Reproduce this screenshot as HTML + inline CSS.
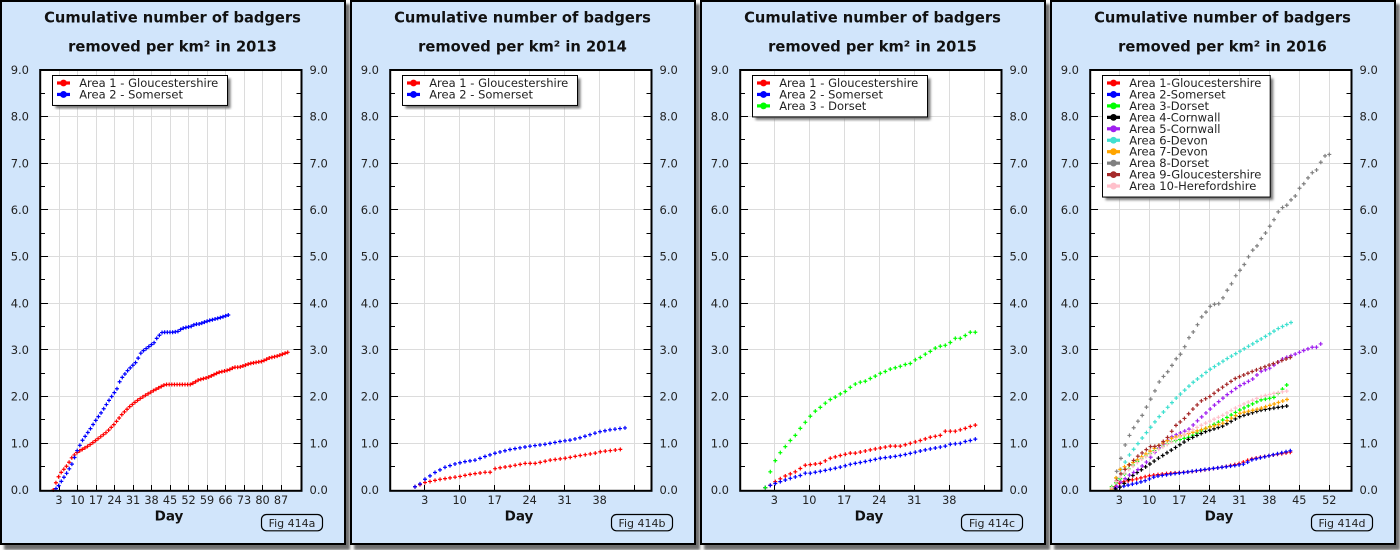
<!DOCTYPE html>
<html><head><meta charset="utf-8">
<style>
html,body{margin:0;padding:0;background:#fff;}
svg{display:block;}
text{font-family:"DejaVu Sans","Liberation Sans",sans-serif;}
</style></head>
<body>
<svg id="s" width="1400" height="550" xmlns="http://www.w3.org/2000/svg"></svg>
<script>
const Y=v=>490-v*46.667;
function interp(k,x){
  if(x<=k[0][0])return k[0][1];
  for(let i=1;i<k.length;i++){
    if(x<=k[i][0]+1e-9){const a=k[i-1],b=k[i];const t=(x-a[0])/((b[0]-a[0])||1);return a[1]+(b[1]-a[1])*t;}
  }
  return k[k.length-1][1];
}
function sample(k,step){
  const x0=k[0][0],x1=k[k.length-1][0];
  const n=Math.max(1,Math.round((x1-x0)/step));
  const p=[];
  for(let i=0;i<=n;i++){const x=x0+(x1-x0)*i/n;p.push([x,interp(k,x)]);}
  return p;
}
const L3=[3,10,17,24,31,38,''];
const panels=[
 {year:2013,fig:'414a',gx:59,gdx:18.5,labels:[3,10,17,24,31,38,45,52,59,66,73,80,87],step:2.643,lw:175,
  legend:['Area 1 - Gloucestershire','Area 2 - Somerset'],
  series:[
   ['#ff0000',[[53.3,0],[56,0.16],[59.3,0.32],[61.3,0.38],[67.3,0.53],[72.3,0.71],[77.3,0.81],[88.7,0.95],[98.7,1.11],[106.7,1.24],[114.3,1.41],[122.3,1.63],[130.3,1.80],[138.7,1.94],[146.3,2.04],[154.3,2.14],[165,2.26],[190.7,2.26],[198.7,2.36],[207.7,2.41],[218.7,2.52],[228.7,2.57],[234,2.63],[239.3,2.63],[250,2.71],[262.7,2.76],[269.3,2.83],[277.3,2.87],[287.7,2.95]]],
   ['#0000ff',[[56,0.03],[59.3,0.11],[62,0.21],[67.3,0.38],[72.3,0.57],[77.3,0.85],[82.3,1.06],[90.3,1.31],[96,1.5],[101.3,1.66],[109.3,1.93],[117.3,2.18],[120.3,2.36],[128,2.57],[136,2.74],[141.3,2.95],[146.7,3.04],[154.3,3.16],[157.3,3.27],[162.3,3.38],[172.7,3.38],[178.3,3.40],[181.7,3.46],[191.7,3.51],[194.7,3.55],[200,3.56],[203.3,3.59],[210.7,3.64],[218.3,3.68],[228.3,3.75]]]
  ]},
 {year:2014,fig:'414b',gx:424.7,gdx:35,labels:L3,step:5,lw:175,
  legend:['Area 1 - Gloucestershire','Area 2 - Somerset'],
  series:[
   ['#ff0000',[[415,0.07],[425,0.16],[440.3,0.23],[460,0.29],[470.3,0.336],[485.3,0.38],[490.3,0.38],[495.3,0.46],[510.3,0.51],[525.3,0.57],[535.3,0.57],[550.3,0.64],[565.3,0.68],[580.3,0.74],[595.3,0.79],[600.3,0.82],[620.3,0.87]]],
   ['#0000ff',[[415,0.07],[420,0.13],[425,0.23],[435.3,0.38],[445.3,0.49],[455.3,0.56],[465.3,0.61],[475.3,0.64],[485.3,0.72],[495.3,0.79],[510.3,0.87],[530.3,0.94],[545.3,0.98],[560.3,1.04],[570.3,1.07],[580,1.12],[600,1.25],[610,1.29],[625,1.33]]]
  ]},
 {year:2015,fig:'414c',gx:774.3,gdx:35,labels:L3,step:5,lw:175,
  legend:['Area 1 - Gloucestershire','Area 2 - Somerset','Area 3 - Dorset'],
  series:[
   ['#ff0000',[[765.3,0.05],[770.3,0.1],[775.3,0.18],[785.3,0.30],[795.3,0.39],[805.3,0.53],[820.3,0.57],[830.3,0.68],[840.3,0.74],[850.3,0.79],[855.3,0.79],[870.3,0.86],[890.3,0.94],[900.3,0.94],[905.3,0.97],[910.3,1.0],[920.3,1.06],[930.3,1.13],[940.3,1.17],[945.3,1.26],[955.3,1.26],[960.3,1.29],[965.3,1.32],[970.3,1.36],[975.3,1.39]]],
   ['#0000ff',[[765.3,0.05],[770.3,0.10],[780.3,0.18],[790.3,0.25],[800.3,0.31],[805.3,0.36],[810.3,0.36],[825.3,0.42],[840.3,0.49],[850.3,0.55],[865.3,0.61],[880.3,0.68],[895.3,0.72],[905.3,0.76],[915.3,0.81],[925.3,0.86],[935.3,0.90],[945.3,0.94],[950.3,0.98],[960.3,1.0],[965.3,1.04],[970.3,1.06],[975.3,1.09]]],
   ['#00ff00',[[765.3,0.05],[770.3,0.39],[775.3,0.63],[780.3,0.80],[785.3,0.93],[790.3,1.06],[795.3,1.17],[800.3,1.32],[805.3,1.45],[810.3,1.58],[815.3,1.69],[820.3,1.77],[825.3,1.86],[830.3,1.94],[835.3,1.99],[840.3,2.06],[845.3,2.11],[850.3,2.2],[855.3,2.27],[860.3,2.31],[865.3,2.33],[870.3,2.39],[875.3,2.44],[880.3,2.50],[885.3,2.54],[890.3,2.59],[895.3,2.62],[900.3,2.65],[905.3,2.69],[910.3,2.71],[915.3,2.79],[920.3,2.84],[925.3,2.91],[930.3,2.97],[935.3,3.04],[940.3,3.08],[945.3,3.10],[950.3,3.16],[955.3,3.25],[960.3,3.25],[965.3,3.31],[970.3,3.38],[975.3,3.38]]]
  ]},
 {year:2016,fig:'414d',gx:1119.3,gdx:30,labels:[3,10,17,24,31,38,45,52],step:4.286,lw:167.7,
  legend:['Area 1-Gloucestershire','Area 2-Somerset','Area 3-Dorset','Area 4-Cornwall','Area 5-Cornwall','Area 6-Devon','Area 7-Devon','Area 8-Dorset','Area 9-Gloucestershire','Area 10-Herefordshire'],
  series:[
   ['#ff0000',[[1115.3,0.07],[1120.3,0.16],[1135.3,0.23],[1150.3,0.31],[1170.3,0.36],[1190.3,0.39],[1210.3,0.45],[1225.3,0.5],[1240.3,0.57],[1250.3,0.66],[1270.3,0.74],[1290.3,0.81]]],
   ['#0000ff',[[1115.3,0.04],[1125.3,0.09],[1135.3,0.14],[1145.3,0.2],[1155.3,0.29],[1170.3,0.34],[1185.3,0.38],[1205.3,0.44],[1230.3,0.51],[1245.3,0.56],[1250.3,0.64],[1270.3,0.74],[1290.3,0.84]]],
   ['#00ff00',[[1111.7,0.07],[1120.7,0.25],[1128.7,0.45],[1137,0.61],[1154.3,0.84],[1171.7,1.04],[1188.7,1.13],[1205.3,1.31],[1222.7,1.5],[1239.3,1.71],[1260.7,1.93],[1273.7,1.98],[1286.7,2.25]]],
   ['#000000',[[1115.7,0.02],[1120.7,0.07],[1133.3,0.32],[1145.3,0.49],[1158.3,0.68],[1171.7,0.86],[1188.7,1.09],[1205.3,1.25],[1222.7,1.37],[1239.3,1.57],[1260.7,1.71],[1286.7,1.80]]],
   ['#a020f0',[[1116.7,0.08],[1120.7,0.16],[1128.7,0.31],[1137,0.42],[1145.3,0.57],[1158.3,0.89],[1171.7,1.14],[1188.7,1.30],[1197.3,1.48],[1214,1.81],[1227,2.04],[1239.3,2.23],[1252.3,2.37],[1260.7,2.54],[1269.7,2.61],[1282.7,2.81],[1295,2.91],[1303.7,2.99],[1312.3,3.06],[1316.7,3.06],[1320.7,3.13]]],
   ['#40e0d0',[[1116.7,0.25],[1120.7,0.43],[1128.7,0.73],[1141.3,1.09],[1158.3,1.55],[1175.7,1.96],[1192.7,2.30],[1209.7,2.58],[1226.7,2.81],[1243.7,3.02],[1260.7,3.23],[1278.3,3.46],[1291,3.59]]],
   ['#ffa500',[[1111.7,0.02],[1116.7,0.3],[1120.7,0.46],[1133.3,0.59],[1158.3,0.95],[1171.7,1.11],[1188.7,1.21],[1205.3,1.32],[1222.7,1.43],[1239.3,1.64],[1260.7,1.75],[1273.7,1.84],[1287,1.94]]],
   ['#808080',[[1116.7,0.40],[1120.7,0.66],[1124.3,0.92],[1128.7,1.14],[1133.3,1.32],[1137,1.45],[1141.3,1.56],[1145.3,1.73],[1150.3,1.93],[1154.3,2.09],[1158.3,2.29],[1163.3,2.43],[1167.3,2.52],[1171.7,2.66],[1175.7,2.80],[1180.5,2.91],[1184.3,3.05],[1188.5,3.25],[1192.5,3.36],[1197.2,3.53],[1201.3,3.70],[1205.3,3.79],[1209.7,3.93],[1214,3.98],[1218.3,3.98],[1222.3,4.09],[1226.3,4.25],[1231.3,4.41],[1235.3,4.58],[1239.3,4.69],[1243.7,4.81],[1248.3,4.99],[1252.3,5.13],[1256.7,5.22],[1260.7,5.37],[1265.3,5.50],[1269.7,5.65],[1273.7,5.78],[1278.3,5.96],[1282.3,6.05],[1286.7,6.10],[1290.7,6.21],[1295.3,6.30],[1299.3,6.46],[1303.7,6.56],[1307.7,6.68],[1312.3,6.80],[1316.7,6.86],[1320.7,7.02],[1325,7.16],[1329.3,7.19]]],
   ['#a52a2a',[[1116.7,0.2],[1120.7,0.34],[1137,0.71],[1150.3,0.93],[1158.3,0.94],[1167.3,1.12],[1175.7,1.38],[1184.3,1.53],[1192.7,1.73],[1201.3,1.91],[1209.7,2.0],[1218.3,2.14],[1235.3,2.39],[1252.3,2.54],[1269.7,2.68],[1290.3,2.84]]],
   ['#ffc0cb',[[1111.7,0.05],[1116.7,0.2],[1124.3,0.36],[1141.3,0.66],[1158.3,0.87],[1171.7,1.03],[1188.7,1.25],[1205.3,1.43],[1222.7,1.6],[1239.3,1.80],[1260.7,2.0],[1273.7,2.07],[1286.7,2.12]]]
  ]}
];
const cols4=['#ff0000','#0000ff','#00ff00','#000000','#a020f0','#40e0d0','#ffa500','#808080','#a52a2a','#ffc0cb'];
let h='<defs><filter id="bl" x="-5%" y="-5%" width="110%" height="110%"><feGaussianBlur stdDeviation="1.2"/></filter></defs>';
panels.forEach((P,pi)=>{
  const ox=350*pi;
  // shadow + panel
  h+=`<rect x="${ox+4}" y="4" width="346" height="546" fill="#6e6e6e" filter="url(#bl)"/>`;
  h+=`<rect x="${ox+1}" y="1" width="344" height="543" fill="#d1e5fb" stroke="#000" stroke-width="2"/>`;
  // title
  h+=`<text x="${ox+172.5}" y="22.7" text-anchor="middle" font-weight="bold" font-size="14.7" fill="#111">Cumulative number of badgers</text>`;
  h+=`<text x="${ox+172.5}" y="51.7" text-anchor="middle" font-weight="bold" font-size="14.7" fill="#111">removed per km² in ${P.year}</text>`;
  // plot bg
  h+=`<rect x="${ox+40}" y="70" width="262" height="421" fill="#fff"/>`;
  // grid horizontal
  for(let k=1;k<=8;k++){const y=Math.round(Y(k)-0.5)+0.5;h+=`<line x1="${ox+41}" x2="${ox+301}" y1="${y}" y2="${y}" stroke="#dcdcdc" stroke-width="1"/>`;}
  // grid vertical + labels
  P.labels.forEach((lb,i)=>{
    const x=P.gx+P.gdx*i;const xr=Math.round(x-0.5)+0.5;
    h+=`<line x1="${xr}" x2="${xr}" y1="71" y2="490" stroke="#dcdcdc" stroke-width="1"/>`;
    h+=`<line x1="${xr}" x2="${xr}" y1="485" y2="490" stroke="#000" stroke-width="1"/>`;
    if(lb!=='')h+=`<text x="${x}" y="504" text-anchor="middle" font-size="11.3" fill="#222">${lb}</text>`;
  });
  // y ticks and labels
  for(let k=0;k<=18;k++){
    const v=k/2;const y=Math.round(Y(v)-0.5)+0.5;const len=(k%2===0)?7:4;
    if(k>0&&k<18){
      h+=`<line x1="${ox+41}" x2="${ox+41+len}" y1="${y}" y2="${y}" stroke="#000" stroke-width="1"/>`;
      h+=`<line x1="${ox+300.5}" x2="${ox+300.5-len}" y1="${y}" y2="${y}" stroke="#000" stroke-width="1"/>`;
    }
    if(k%2===0){
      h+=`<text x="${ox+29}" y="${Y(v)+4}" text-anchor="end" font-size="11.5" fill="#222">${v.toFixed(1)}</text>`;
      h+=`<text x="${ox+309.5}" y="${Y(v)+4}" text-anchor="start" font-size="11.5" fill="#222">${v.toFixed(1)}</text>`;
    }
  }
  // series
  P.series.forEach(s=>{
    const pts=sample(s[1],P.step);
    let d='';
    pts.forEach(p=>{const x=p[0],y=Y(p[1]);d+=`M${(x-2).toFixed(2)},${y.toFixed(2)}h4M${x.toFixed(2)},${(y-2).toFixed(2)}v4`;});
    h+=`<path d="${d}" stroke="${s[0]}" stroke-width="1.2" fill="none"/>`;
  });
  // frame
  h+=`<rect x="${ox+40.2}" y="70" width="261.3" height="420.8" fill="none" stroke="#000" stroke-width="2"/>`;
  // legend
  const n=P.legend.length;const bx=ox+52.5,by=75.5,bh=8+11.45*(n-1)+10.5,bw=P.lw;
  h+=`<rect x="${bx+3}" y="${by+3}" width="${bw}" height="${bh}" fill="#777" filter="url(#bl)"/>`;
  h+=`<rect x="${bx}" y="${by}" width="${bw}" height="${bh}" fill="#fff" stroke="#000" stroke-width="1"/>`;
  P.legend.forEach((t,i)=>{
    const cy=by+7.5+11.45*i;const c=P.series[i]?P.series[i][0]:cols4[i];
    h+=`<line x1="${bx+4.5}" x2="${bx+17.5}" y1="${cy}" y2="${cy}" stroke="${c}" stroke-width="3.2"/>`;
    h+=`<circle cx="${bx+11}" cy="${cy}" r="3.4" fill="${c}"/>`;
    h+=`<text x="${bx+26.7}" y="${cy+4}" font-size="11.5" fill="#222">${t}</text>`;
  });
  // Day label
  h+=`<text x="${ox+169}" y="520.5" text-anchor="middle" font-family="Liberation Sans, Arial, sans-serif" font-weight="bold" font-size="13.5" fill="#111">Day</text>`;
  // Fig box
  h+=`<rect x="${ox+261.5}" y="514.5" width="61" height="16.3" rx="5" ry="5" fill="none" stroke="#000" stroke-width="1.2"/>`;
  h+=`<text x="${ox+292}" y="526.8" text-anchor="middle" font-size="11" fill="#222">Fig ${P.fig}</text>`;
});
document.getElementById('s').innerHTML=h;
</script>
</body></html>
